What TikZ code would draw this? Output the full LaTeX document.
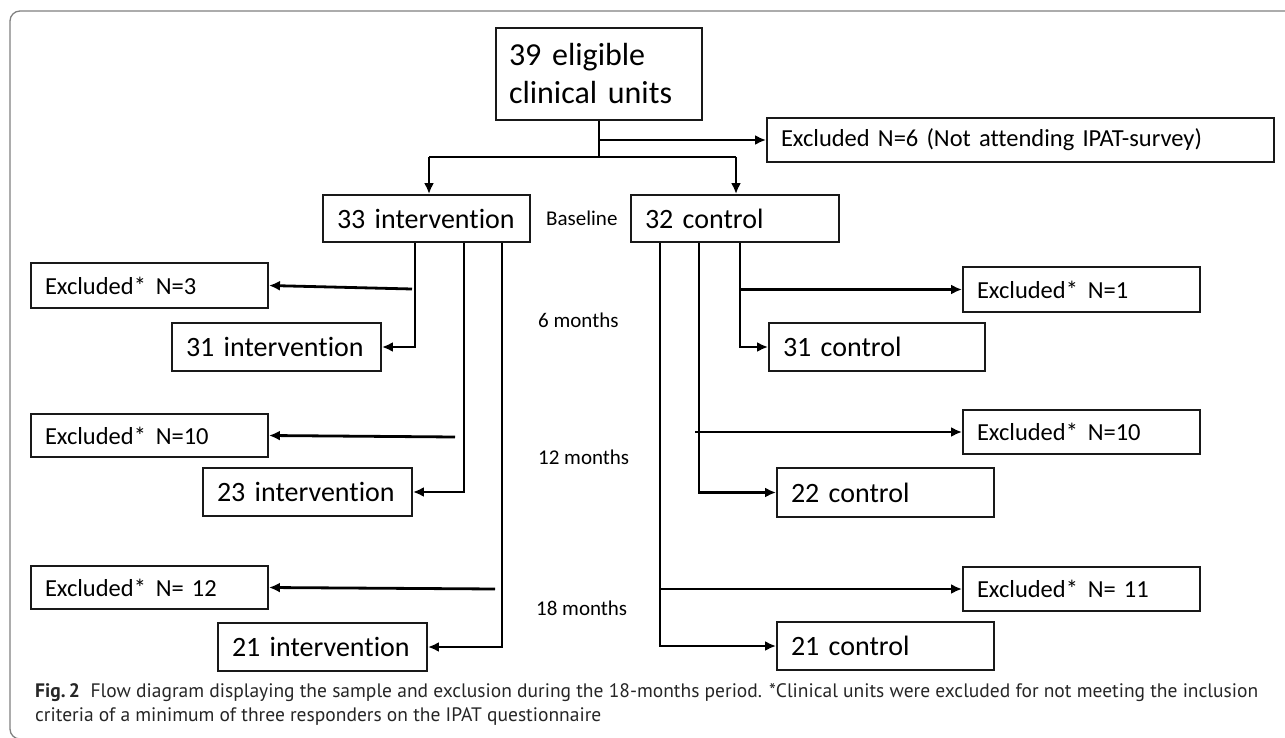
\documentclass[tikz,border=0pt]{standalone}
\usepackage{fontspec}
\setmainfont{Carlito}[Ligatures=NoCommon]
\newfontfamily\capfont{PT Sans}
\usetikzlibrary{arrows.meta}
\tikzset{
  box/.style={draw=black!90, line width=1.9pt, inner xsep=14pt, inner ysep=0pt, align=left,
    font=\fontsize{28pt}{33pt}\selectfont},
  exbox/.style={font=\fontsize{24.5pt}{29pt}\selectfont},
  bigbox/.style={inner xsep=13pt, font=\fontsize{32pt}{38pt}\selectfont},
  conn/.style={line width=2.8pt, black},
  arr/.style={conn, -{Latex[length=11pt,width=10pt]}},
  period/.style={anchor=west, inner sep=0pt, font=\fontsize{21pt}{25pt}\selectfont},
  frame/.style={draw=black!50, line width=1.3pt, rounded corners=10pt},
}
\newcommand{\flowbox}[7][]{%
  \pgfmathsetmacro{\fbw}{#5-#3-28}%
  \pgfmathsetmacro{\fbh}{#6-#4}%
  \node[box,#1,text width=\fbw pt,minimum height=\fbh pt] (#2) at ({(#3+#5)/2},{(#4+#6)/2}) {#7};}
\begin{document}
\begin{tikzpicture}[x=1pt,y=-1pt]
\useasboundingbox (0,0) rectangle (1285,738);
\clip (0,0) rectangle (1285,738);
\draw[frame] (10,11) rectangle (1300,739);

% boxes
\flowbox[bigbox,text width=182pt]{b39}{495}{28}{703}{120}{39 eligible\\clinical units}
\flowbox[exbox]{ex6}{767}{118}{1274}{162}{Excluded N=6 (Not attending IPAT-survey)}
\flowbox{i33}{323}{195}{530}{242}{33 intervention}
\flowbox{c32}{631}{195}{839}{242}{32 control}
\flowbox[exbox]{ex3}{31}{263}{268}{308}{Excluded*\hspace{0.4em}N=3}
\flowbox{i31}{172}{323}{381}{371}{31 intervention}
\flowbox[exbox]{ex10l}{31}{414}{268}{457}{Excluded*\hspace{0.4em}N=10}
\flowbox{i23}{203}{468}{412}{516}{23 intervention}
\flowbox[exbox]{ex12}{31}{566}{268}{609}{Excluded*\hspace{0.4em}N= 12}
\flowbox{i21}{218}{623}{427}{671}{21 intervention}
\flowbox[exbox]{ex1}{963}{267}{1200}{312}{Excluded*\hspace{0.4em}N=1}
\flowbox{c31}{769}{323}{985}{371}{31 control}
\flowbox[exbox]{ex10r}{963}{410}{1200}{454}{Excluded*\hspace{0.4em}N=10}
\flowbox{c22}{777}{468}{994}{517}{22 control}
\flowbox[exbox]{ex11}{963}{567}{1200}{611}{Excluded*\hspace{0.4em}N= 11}
\flowbox{c21}{777}{622}{994}{670}{21 control}

% period labels
\node[period] (base) at (546,218) {Baseline};
\node[period] (m6) at (538,320) {6 months};
\node[period] (m12) at (538,457) {12 months};
\node[period] (m18) at (536,608) {18 months};

% helper coordinates
\coordinate (hbL) at (429,157);
\coordinate (hbR) at (736,157);
\coordinate (xL1) at (415,0);
\coordinate (xL2) at (464,0);
\coordinate (xL3) at (502,0);
\coordinate (xR1) at (660,0);
\coordinate (xR2) at (699,0);
\coordinate (xR3) at (740,0);
\coordinate (bL1) at (412,289);
\coordinate (bL2) at (455,437);
\coordinate (bL3) at (495,589);
\coordinate (bR2) at (695,432);

% top connectors
\draw[conn] (b39.south) -- (b39.south |- hbL);
\draw[conn] (hbL) -- (hbR);
\draw[arr] (hbL) -- (hbL |- i33.north);
\draw[arr] (hbR) -- (hbR |- c32.north);
\draw[arr] (b39.south |- ex6.west) -- (ex6.west);

% intervention arm
\draw[arr] (i33.south -| xL1) |- (i31.east);
\draw[arr] (bL1) -- (ex3.east);
\draw[arr] (i33.south -| xL2) |- (i23.east);
\draw[arr] (bL2) -- (ex10l.east);
\draw[arr] (i33.south -| xL3) |- (i21.east);
\draw[arr] (bL3) -- (ex12.east);

% control arm
\draw[arr] (c32.south -| xR3) |- (c31.west);
\draw[arr] (ex1.west -| xR3) -- (ex1.west);
\draw[arr] (c32.south -| xR2) |- (c22.west);
\draw[arr] (bR2) -- (ex10r.west);
\draw[arr] (c32.south -| xR1) |- (c21.west);
\draw[arr] (ex11.west -| xR1) -- (ex11.west);

% caption (base anchor = baseline of the last line)
\node[anchor=base west, inner sep=0pt, align=left, text=black!85,
  font=\capfont\fontsize{19.5pt}{24pt}\selectfont] (cap) at (35,721)
  {\textbf{Fig.\,2}\hspace{0.55em}Flow diagram displaying the sample and exclusion during the 18-months period. *Clinical units were excluded for not meeting the inclusion\\
   criteria of a minimum of three responders on the IPAT questionnaire};
\end{tikzpicture}
\end{document}
